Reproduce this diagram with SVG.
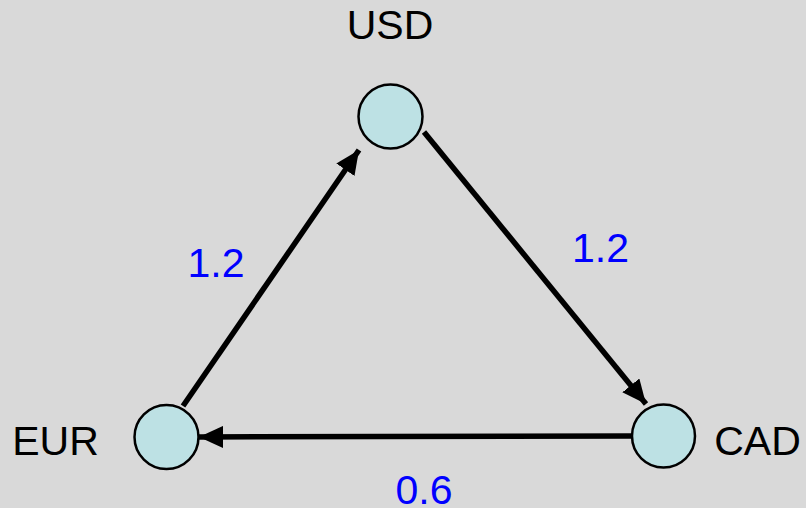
<svg xmlns="http://www.w3.org/2000/svg" width="806" height="508" viewBox="0 0 806 508">
<style>
.node{fill:#BDE1E4;stroke:#000;stroke-width:2.5}
.lbl{font-family:"Liberation Sans",Arial,sans-serif;font-size:41px;fill:#000;text-anchor:middle}
.w{font-family:"Liberation Sans",Arial,sans-serif;font-size:41px;fill:#0000FF;text-anchor:middle}
.edge{stroke:#000;stroke-width:5.5;fill:none;marker-end:url(#ah)}
</style>
<defs>
<marker id="ah" markerUnits="userSpaceOnUse" markerWidth="26" markerHeight="22" refX="24" refY="11" orient="auto">
<path d="M0,0 L24,11 L0,22 Z" fill="#000"/>
</marker>
</defs>
<rect width="806" height="508" fill="#D9D9D9"/>
<g id="connectors">
<line class="edge" x1="183" y1="406" x2="359" y2="150"/>
<line class="edge" x1="424" y1="132" x2="646" y2="404"/>
<line class="edge" x1="632" y1="436" x2="199" y2="437"/>
</g>
<g id="node-usd">
<circle class="node" cx="390.5" cy="116.5" r="32"/>
<text class="lbl" x="390" y="39">USD</text>
</g>
<g id="node-eur">
<circle class="node" cx="166.5" cy="437" r="32"/>
<text class="lbl" x="55.5" y="455">EUR</text>
</g>
<g id="node-cad">
<circle class="node" cx="663.5" cy="436" r="31.5"/>
<text class="lbl" x="757.5" y="455">CAD</text>
</g>
<g id="edge-labels">
<text class="w" x="216" y="277">1.2</text>
<text class="w" x="600.5" y="262">1.2</text>
<text class="w" x="424" y="504">0.6</text>
</g>
</svg>
